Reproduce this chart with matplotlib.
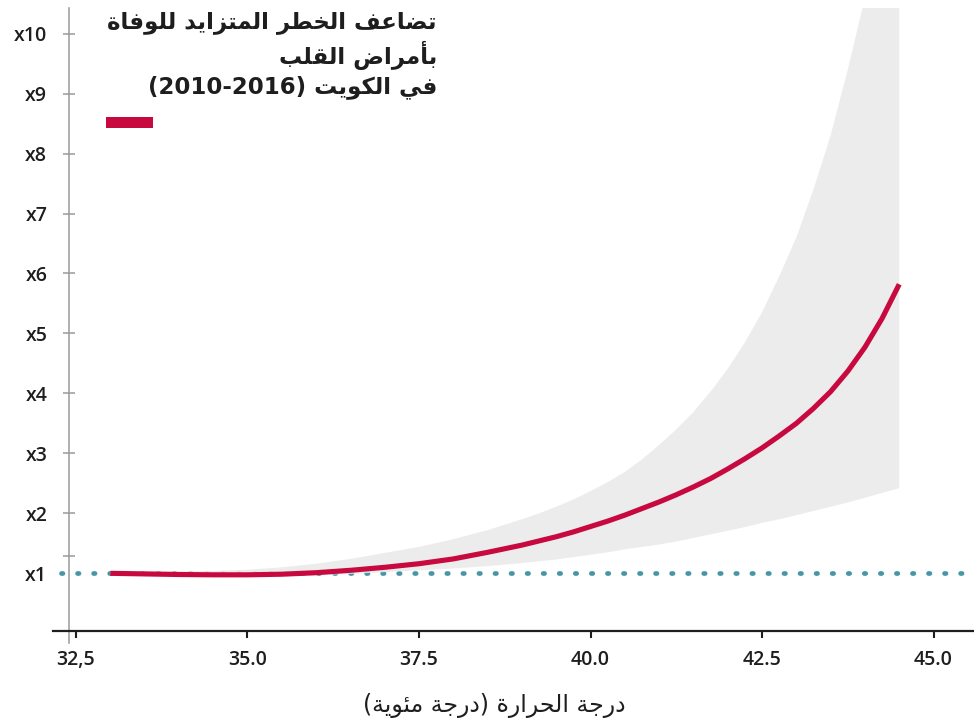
import re
import matplotlib
matplotlib.use("Agg")
import matplotlib.pyplot as plt
from matplotlib.patches import Rectangle

# ---- data -------------------------------------------------------------
temps = [33.0, 33.5, 34.0, 34.5, 35.0, 35.5, 36.0, 36.5, 37.0, 37.5, 38.0, 38.5,
         39.0, 39.25, 39.5, 39.75, 40.0, 40.25, 40.5, 40.75, 41.0, 41.25, 41.5, 41.75,
         42.0, 42.25, 42.5, 42.75, 43.0, 43.25, 43.5, 43.75, 44.0, 44.25, 44.5]
risk = [1.00, 0.99, 0.98, 0.975, 0.975, 0.985, 1.01, 1.05, 1.10, 1.16, 1.24, 1.35,
        1.47, 1.54, 1.61, 1.69, 1.78, 1.87, 1.97, 2.08, 2.19, 2.31, 2.44, 2.58,
        2.74, 2.91, 3.09, 3.29, 3.50, 3.75, 4.03, 4.37, 4.77, 5.25, 5.82]
risk_low = [0.98, 0.97, 0.96, 0.955, 0.95, 0.96, 0.97, 0.99, 1.02, 1.05, 1.08, 1.12,
            1.17, 1.20, 1.23, 1.27, 1.31, 1.35, 1.40, 1.44, 1.48, 1.53, 1.59, 1.65,
            1.71, 1.77, 1.84, 1.90, 1.97, 2.04, 2.11, 2.18, 2.26, 2.34, 2.42]
risk_high = [1.03, 1.03, 1.03, 1.04, 1.06, 1.10, 1.16, 1.24, 1.34, 1.44, 1.57, 1.72,
             1.90, 2.00, 2.11, 2.23, 2.37, 2.52, 2.69, 2.90, 3.14, 3.40, 3.69, 4.03,
             4.41, 4.85, 5.35, 5.95, 6.60, 7.40, 8.30, 9.40, 10.6, 12.2, 14.0]

x_ticks = [32.5, 35.0, 37.5, 40.0, 42.5, 45.0]
x_tick_labels = ["32,5", "35.0", "37.5", "40.0", "42.5", "45.0"]
y_ticks = [1, 2, 3, 4, 5, 6, 7, 8, 9, 10]
y_tick_labels = ["x1", "x2", "x3", "x4", "x5", "x6", "x7", "x8", "x9", "x10"]

title_lines = ["تضاعف الخطر المتزايد للوفاة", "بأمراض القلب", "في الكويت (2010-2016)"]
x_title = "درجة الحرارة (درجة مئوية)"

# ---- minimal Arabic shaping (presentation forms + right-to-left order) ----
FORMS = {
    'ء': (0xFE80, 1), 'آ': (0xFE81, 2), 'أ': (0xFE83, 2), 'ؤ': (0xFE85, 2),
    'إ': (0xFE87, 2), 'ئ': (0xFE89, 4), 'ا': (0xFE8D, 2), 'ب': (0xFE8F, 4),
    'ة': (0xFE93, 2), 'ت': (0xFE95, 4), 'ث': (0xFE99, 4), 'ج': (0xFE9D, 4),
    'ح': (0xFEA1, 4), 'خ': (0xFEA5, 4), 'د': (0xFEA9, 2), 'ذ': (0xFEAB, 2),
    'ر': (0xFEAD, 2), 'ز': (0xFEAF, 2), 'س': (0xFEB1, 4), 'ش': (0xFEB5, 4),
    'ص': (0xFEB9, 4), 'ض': (0xFEBD, 4), 'ط': (0xFEC1, 4), 'ظ': (0xFEC5, 4),
    'ع': (0xFEC9, 4), 'غ': (0xFECD, 4), 'ف': (0xFED1, 4), 'ق': (0xFED5, 4),
    'ك': (0xFED9, 4), 'ل': (0xFEDD, 4), 'م': (0xFEE1, 4), 'ن': (0xFEE5, 4),
    'ه': (0xFEE9, 4), 'و': (0xFEED, 2), 'ى': (0xFEEF, 2), 'ي': (0xFEF1, 4),
}
LAM_ALEF = {'آ': 0xFEF5, 'أ': 0xFEF7, 'إ': 0xFEF9, 'ا': 0xFEFB}


def shape_arabic(text):
    chars = list(text)
    out = []
    i = 0
    while i < len(chars):
        c = chars[i]
        if c not in FORMS:
            out.append(c)
            i += 1
            continue
        prev_joins = i > 0 and chars[i - 1] in FORMS and FORMS[chars[i - 1]][1] == 4
        if c == 'ل' and i + 1 < len(chars) and chars[i + 1] in LAM_ALEF:
            out.append(chr(LAM_ALEF[chars[i + 1]] + (1 if prev_joins else 0)))
            i += 2
            continue
        base, n = FORMS[c]
        next_joins = n == 4 and i + 1 < len(chars) and chars[i + 1] in FORMS
        if n == 4:
            form = 3 if (prev_joins and next_joins) else 2 if next_joins else 1 if prev_joins else 0
        elif n == 2:
            form = 1 if prev_joins else 0
        else:
            form = 0
        out.append(chr(base + form))
        i += 1
    visual = "".join(out)[::-1]
    visual = visual.translate(str.maketrans("()", ")("))
    visual = re.sub(r"[0-9][0-9\-]*[0-9]", lambda m: m.group(0)[::-1], visual)
    return visual


# ---- figure -----------------------------------------------------------
W, H = 974, 724
fig = plt.figure(figsize=(W / 100, H / 100), dpi=100)
fig.patch.set_facecolor("white")

latin = ["Open Sans", "DejaVu Sans"]
arabic = ["DejaVu Sans"]
ink = "#1e1e1e"
red = "#c8093f"
teal = "#4796a5"
band = "#e9e9e9"
axis_grey = "#9a9a9a"

ax = fig.add_axes([53 / W, 1 - 631 / H, 921 / W, 623 / H])
ax.set_xlim(32.165, 45.59)
ax.set_ylim(0.038, 10.427)

# reference level
ax.plot([32.28, 45.62], [1, 1], color=teal, lw=3.4, linestyle=(0, (0.3, 3.1)),
        dash_capstyle="round", clip_on=False, zorder=1)

# confidence band and central estimate
ax.fill_between(temps, risk_low, risk_high, color=band, alpha=0.85, lw=0, zorder=2)
ax.plot(temps, risk, color=red, lw=3.7, solid_capstyle="butt",
        solid_joinstyle="round", zorder=3)

# axes styling
for side in ("top", "right"):
    ax.spines[side].set_visible(False)
ax.spines["bottom"].set_color(ink)
ax.spines["bottom"].set_linewidth(1.6)
ax.spines["left"].set_position(("data", 32.394))
ax.spines["left"].set_color(axis_grey)
ax.spines["left"].set_linewidth(1.1)
ax.plot([32.394, 32.394], [0.038, -0.162], color=axis_grey, lw=1.1,
        clip_on=False, zorder=0)

ax.set_xticks(x_ticks)
ax.set_xticklabels(x_tick_labels, family=latin, fontsize=14, fontweight="semibold",
                   color=ink)
ax.tick_params(axis="x", direction="out", length=5, width=1.5, color=ink, pad=9)

ax.set_yticks(y_ticks + [1.29])
ax.set_yticklabels(y_tick_labels + [""], family=latin, fontsize=14,
                   fontweight="semibold", color=ink)
ax.tick_params(axis="y", direction="inout", length=9, width=1.1, color=axis_grey, pad=11)
ax.yaxis.get_major_ticks()[0].tick1line.set_visible(False)

# title block
title_y = [22, 55, 87]
for line, yy in zip(title_lines, title_y):
    fig.text(437 / W, 1 - yy / H, shape_arabic(line), family=arabic, fontweight="bold",
             fontsize=16.5, color=ink, ha="right", va="center")
fig.patches.append(Rectangle((106 / W, 1 - 128 / H), 47 / W, 11 / H,
                             transform=fig.transFigure, color=red, lw=0))

# x-axis title
fig.text(494 / W, 1 - 705 / H, shape_arabic(x_title), family=arabic,
         fontsize=17, color=ink, ha="center", va="center")

fig.savefig("out.png", dpi=100, facecolor="white")
